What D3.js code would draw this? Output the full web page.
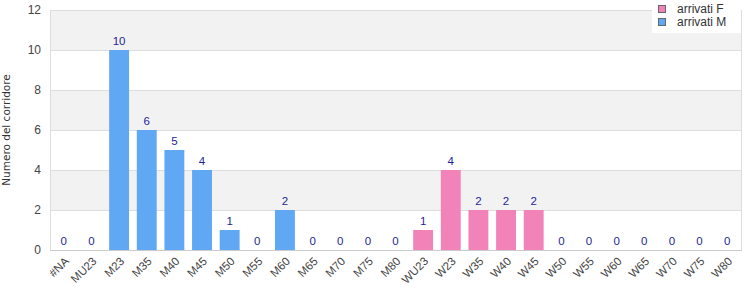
<!DOCTYPE html>
<html>
<head>
<meta charset="utf-8">
<script src="https://cdn.jsdelivr.net/npm/d3@7"></script>
<style>
  body { margin: 0; background: #fff; }
  svg { font-family: "Liberation Sans", Arial, sans-serif; }
</style>
</head>
<body>
<svg id="chart"></svg>
<script>
const categories = ['#NA', 'MU23', 'M23', 'M35', 'M40', 'M45', 'M50', 'M55', 'M60', 'M65', 'M70', 'M75', 'M80',
  'WU23', 'W23', 'W35', 'W40', 'W45', 'W50', 'W55', 'W60', 'W65', 'W70', 'W75', 'W80'];
const arrivatiM = [0, 0, 10, 6, 5, 4, 1, 0, 2, 0, 0, 0, 0,
  null, null, null, null, null, null, null, null, null, null, null, null];
const arrivatiF = [null, null, null, null, null, null, null, null, null, null, null, null, null,
  1, 4, 2, 2, 2, 0, 0, 0, 0, 0, 0, 0];
const yTicks = [0, 2, 4, 6, 8, 10, 12];
const seriesNames = ['arrivati F', 'arrivati M'];
const seriesColors = ['#f283b9', '#60a8f4'];

const width = 750;
const height = 300;
const margin = { top: 10, right: 9, bottom: 50, left: 50 };
const innerW = width - margin.left - margin.right;
const innerH = height - margin.top - margin.bottom;

const svg = d3.select('#chart').attr('width', width).attr('height', height);
const g = svg.append('g').attr('transform', `translate(${margin.left},${margin.top})`);

const x = d3.scaleBand().domain(categories).range([0, innerW]).paddingInner(0.28).paddingOuter(0.14);
const y = d3.scaleLinear().domain([0, 12]).range([innerH, 0]);

// alternating bands
for (let i = 0; i < yTicks.length - 1; i++) {
  if (i % 2 === 1) {
    g.append('rect')
      .attr('x', 0)
      .attr('y', y(yTicks[i + 1]))
      .attr('width', innerW)
      .attr('height', y(yTicks[i]) - y(yTicks[i + 1]))
      .attr('fill', '#f2f2f2');
  }
}

// grid lines
g.selectAll('.grid')
  .data(yTicks)
  .enter()
  .append('line')
  .attr('x1', 0)
  .attr('x2', innerW)
  .attr('y1', (d) => y(d) + 0.5)
  .attr('y2', (d) => y(d) + 0.5)
  .attr('stroke', '#dddddd');

// frame
g.append('line').attr('x1', 0.5).attr('x2', 0.5).attr('y1', 0).attr('y2', innerH).attr('stroke', '#dddddd');
g.append('line').attr('x1', innerW + 0.5).attr('x2', innerW + 0.5).attr('y1', 0).attr('y2', innerH).attr('stroke', '#dddddd');

// y axis labels
g.selectAll('.ylab')
  .data(yTicks)
  .enter()
  .append('text')
  .attr('x', -9)
  .attr('y', (d) => y(d) + 4)
  .attr('text-anchor', 'end')
  .style('font-size', '12px')
  .style('fill', '#444')
  .text((d) => d);

svg.append('text')
  .attr('transform', `translate(10,${margin.top + innerH / 2}) rotate(-90)`)
  .attr('text-anchor', 'middle')
  .style('font-family', '"DejaVu Sans", Verdana, sans-serif')
  .style('font-size', '10.5px')
  .style('fill', '#333')
  .text('Numero del corridore');

// bars
const series = [
  { name: seriesNames[1], values: arrivatiM, color: seriesColors[1] },
  { name: seriesNames[0], values: arrivatiF, color: seriesColors[0] },
];

series.forEach((s) => {
  const pts = categories.map((c, i) => ({ cat: c, v: s.values[i] })).filter((d) => d.v !== null);
  g.selectAll(null)
    .data(pts)
    .enter()
    .append('rect')
    .attr('x', (d) => x(d.cat))
    .attr('y', (d) => y(d.v))
    .attr('width', x.bandwidth())
    .attr('height', (d) => innerH - y(d.v))
    .attr('fill', s.color);

  g.selectAll(null)
    .data(pts)
    .enter()
    .append('text')
    .attr('x', (d) => x(d.cat) + x.bandwidth() / 2)
    .attr('y', (d) => y(d.v) - 5)
    .attr('text-anchor', 'middle')
    .style('font-size', '11.5px')
    .style('fill', '#1f1f99')
    .text((d) => d.v);
});

// x axis line
g.append('line').attr('x1', 0).attr('x2', innerW + 1).attr('y1', innerH + 0.5).attr('y2', innerH + 0.5).attr('stroke', '#cccccc');

// x labels
g.selectAll('.xlab')
  .data(categories)
  .enter()
  .append('text')
  .attr('transform', (d) => `translate(${x(d) + x.bandwidth() / 2 + 3},${innerH + 9}) rotate(-45)`)
  .attr('text-anchor', 'end')
  .attr('dy', '0.35em')
  .style('font-size', '11.5px')
  .style('fill', '#444')
  .text((d) => d);

// legend
const legend = svg.append('g').attr('transform', 'translate(652,0)');
legend.append('rect').attr('width', 89).attr('height', 33).attr('fill', '#fff');
seriesNames.forEach((n, i) => {
  legend.append('rect')
    .attr('x', 6.5)
    .attr('y', 5.5 + i * 13)
    .attr('width', 7)
    .attr('height', 7)
    .attr('fill', seriesColors[i])
    .attr('stroke', '#666');
  legend.append('text')
    .attr('x', 25)
    .attr('y', 12.5 + i * 13)
    .style('font-size', '12px')
    .style('fill', '#333')
    .text(n);
});
</script>
</body>
</html>
